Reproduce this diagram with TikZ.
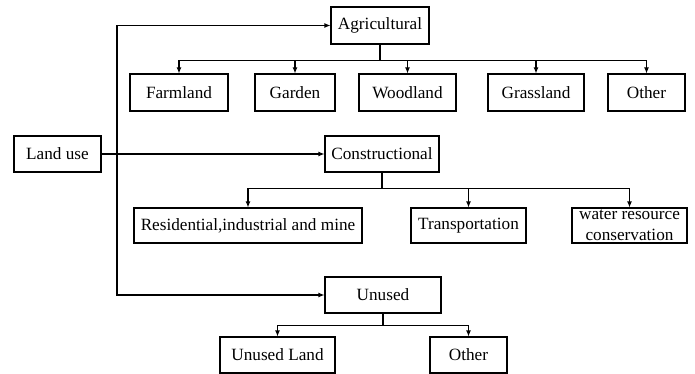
\documentclass[tikz,border=0pt]{standalone}
\usepackage{fontspec}
\setmainfont{Liberation Serif}
\usetikzlibrary{arrows.meta}
\tikzset{
catbox/.style={draw=black,line width=1.1pt,minimum height=36pt,inner sep=1pt,
font=\fontsize{17.2}{21}\selectfont,align=center},
flowarrow/.style={-{Latex[length=6pt,width=5pt]},line width=1.1pt}
}
\begin{document}
\begin{tikzpicture}[x=1pt,y=-1pt]
\useasboundingbox (0,0) rectangle (695,374);
% root and main classes
\node[catbox,minimum width=87pt] (landuse) at (57.5,154) {Land use};
\node[catbox,minimum width=98pt,minimum height=37pt] (agri) at (380,25.5) {Agricultural};
\node[catbox,minimum width=114pt] (constr) at (382,154) {Constructional};
\node[catbox,minimum width=116pt] (unused) at (383,295) {Unused};
% agricultural
\node[catbox,minimum width=98pt,minimum height=37pt] (farm) at (179,92.5) {Farmland};
\node[catbox,minimum width=80pt,minimum height=37pt] (garden) at (295,92.5) {Garden};
\node[catbox,minimum width=97pt,minimum height=37pt] (wood) at (407.5,92.5) {Woodland};
\node[catbox,minimum width=96pt,minimum height=37pt] (grass) at (536,92.5) {Grassland};
\node[catbox,minimum width=77pt,minimum height=37pt] (aother) at (646.5,92.5) {Other};
% constructional
\node[catbox,minimum width=228pt,minimum height=35pt] (resid) at (248,225.5) {Residential,industrial and mine};
\node[catbox,minimum width=115pt,minimum height=35pt] (transp) at (468.5,225.5) {Transportation};
\node[catbox,minimum width=115pt,minimum height=35pt,inner sep=0pt] (water) at (629.5,225.5) {water resource\\conservation};
% unused
\node[catbox,minimum width=115pt] (uland) at (277.5,355) {Unused Land};
\node[catbox,minimum width=77pt] (uother) at (468.5,355) {Other};
% connectors
\coordinate (spine) at (117,154);
\draw[flowarrow] (landuse.east) -- (constr.west);
\draw[flowarrow] (spine) |- (agri.west);
\draw[flowarrow] (spine) |- (unused.west);
\foreach \c in {farm,garden,wood,grass,aother}
  \draw[flowarrow] (agri.south) -- ++(0,16) -| (\c.north);
\foreach \c in {resid,transp,water}
  \draw[flowarrow] (constr.south) -- ++(0,16) -| (\c.north);
\foreach \c in {uland,uother}
  \draw[flowarrow] (unused.south) -- ++(0,12) -| (\c.north);
\end{tikzpicture}
\end{document}
